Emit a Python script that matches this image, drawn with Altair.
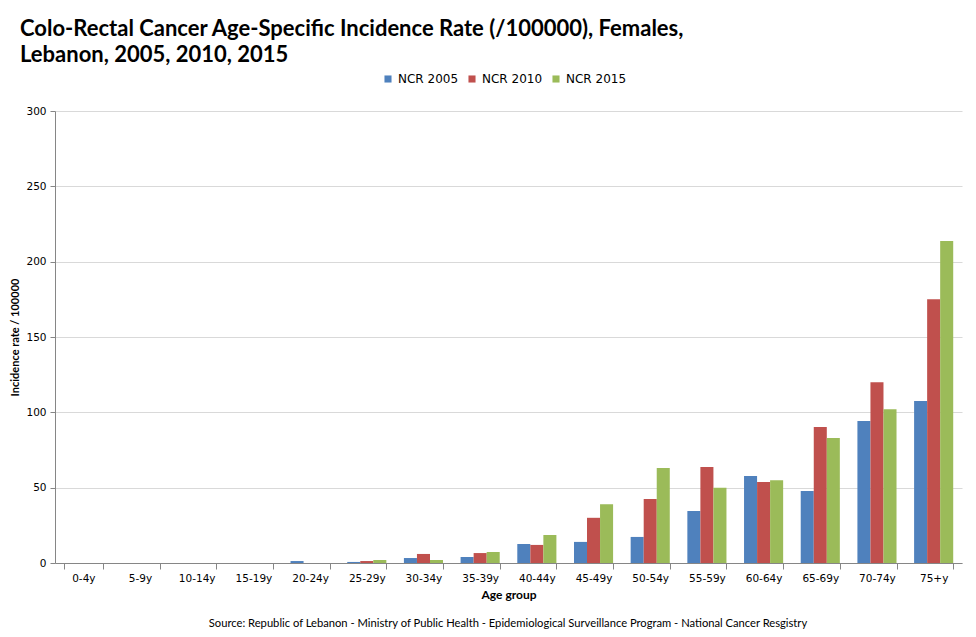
import altair as alt
import pandas as pd

ages = ["0-4y", "5-9y", "10-14y", "15-19y", "20-24y", "25-29y", "30-34y", "35-39y",
        "40-44y", "45-49y", "50-54y", "55-59y", "60-64y", "65-69y", "70-74y", "75+y"]
ncr2005 = [0, 0, 0, 0, 1.3, 0.7, 3.3, 4.0, 12.6, 14.0, 17.3, 34.5, 57.7, 47.8, 94.2, 107.5]
ncr2010 = [0, 0, 0, 0, 0, 1.3, 6.0, 6.6, 12.0, 30.0, 42.5, 63.7, 53.7, 90.2, 120.0, 175.0]
ncr2015 = [0, 0, 0, 0, 0, 2.0, 2.0, 7.3, 18.6, 39.0, 63.0, 50.0, 55.0, 83.0, 102.0, 213.7]
series = ["NCR 2005", "NCR 2010", "NCR 2015"]
colors = ["#4F81BD", "#C0504D", "#9BBB59"]

title_lines = ["Colo-Rectal Cancer Age-Specific Incidence Rate (/100000), Females,",
               "Lebanon, 2005, 2010, 2015"]
source = "Source: Republic of Lebanon - Ministry of Public Health - Epidemiological Surveillance Program - National Cancer Resgistry"

rows = []
for name, vals in zip(series, [ncr2005, ncr2010, ncr2015]):
    for a, v in zip(ages, vals):
        rows.append({"age": a, "series": name, "value": v})
df = pd.DataFrame(rows)

bars = alt.Chart(df).mark_bar().encode(
    x=alt.X("age:N", sort=ages, title="Age group",
            scale=alt.Scale(paddingInner=0.31, paddingOuter=0.155),
            axis=alt.Axis(labelAngle=0, tickBand="extent", tickSize=6,
                          labelFont="DejaVu Sans", labelFontSize=10.5, labelColor="#000000",
                          labelPadding=4,
                          titleFont="Lato", titleFontSize=12, titleFontWeight="bold",
                          titlePadding=6, domainColor="#868686", tickColor="#868686")),
    xOffset=alt.XOffset("series:N", sort=series, scale=alt.Scale(paddingInner=0, paddingOuter=0)),
    y=alt.Y("value:Q", title="Incidence  rate / 100000",
            scale=alt.Scale(domain=[0, 300], nice=False),
            axis=alt.Axis(values=[0, 50, 100, 150, 200, 250, 300], tickSize=5,
                          labelFont="DejaVu Sans", labelFontSize=10.5, labelColor="#000000",
                          labelPadding=4, titleFont="Lato", titleFontSize=11,
                          titleFontWeight="bold", titlePadding=5,
                          domainColor="#868686", tickColor="#868686",
                          gridColor="#D9D9D9", grid=True)),
    color=alt.Color("series:N", sort=series,
                    scale=alt.Scale(domain=series, range=colors),
                    legend=alt.Legend(title=None, orient="none", direction="horizontal",
                                      legendX=327, legendY=-38, symbolType="square",
                                      symbolSize=50, symbolStrokeWidth=0,
                                      labelFont="DejaVu Sans", labelFontSize=12,
                                      labelColor="#000000", columnPadding=7, labelOffset=4)),
)

src = alt.Chart(pd.DataFrame({"t": [source]})).mark_text(
    font="Lato", fontSize=11.2, align="center", baseline="middle",
    color="#000000"
).encode(text="t:N", x=alt.value(453), y=alt.value(513))

chart = alt.layer(bars, src).properties(
    width=907, height=452,
    autosize=alt.AutoSizeParams(type="none"),
    padding={"left": 47, "top": 103, "right": 6, "bottom": 66},
    title=alt.TitleParams(text=title_lines, anchor="start", frame="group", dx=-35,
                          font="Lato", fontSize=22, fontWeight="bold", color="#000000",
                          lineHeight=26, offset=6),
).configure_view(stroke=None)

chart.save("out.html", embed_options={"renderer": "svg", "actions": False})
